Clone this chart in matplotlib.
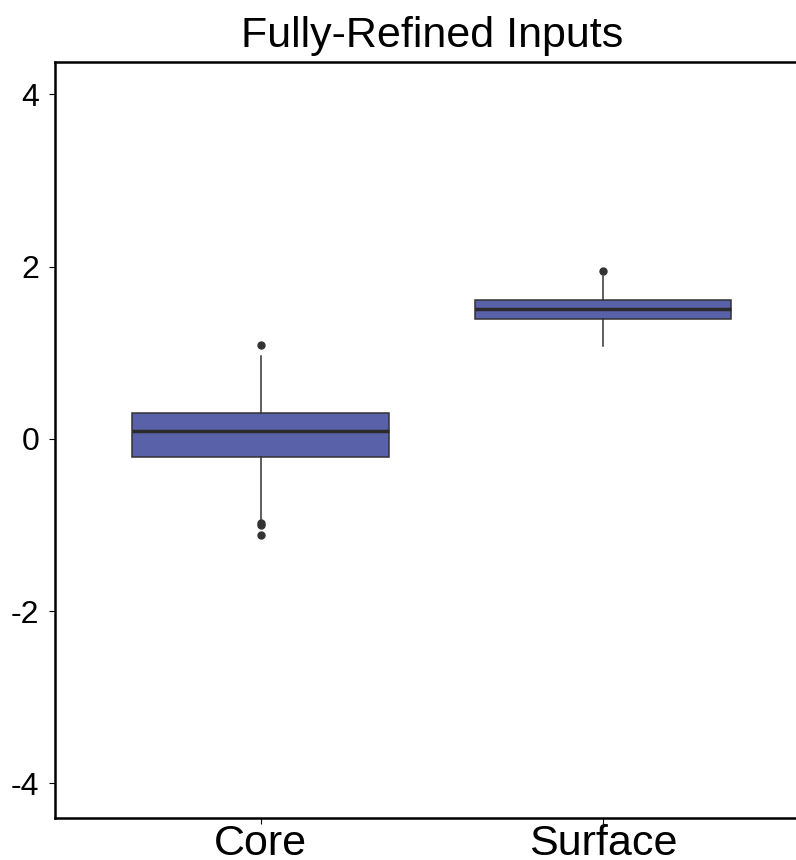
import matplotlib
matplotlib.use("Agg")
import matplotlib.pyplot as plt

# box statistics
groups = ["Core", "Surface"]
q1 = [-0.21, 1.39]
med = [0.087, 1.51]
q3 = [0.303, 1.612]
whislo = [-0.94, 1.077]
whishi = [0.962, 1.885]
fliers = [[1.086, -0.975, -1.0, -1.116], [1.945]]
yticks = [-4, -2, 0, 2, 4]

plt.rcParams['font.family'] = ['Liberation Sans', 'DejaVu Sans']

fig = plt.figure(figsize=(7.96, 8.60), dpi=100)
ax = fig.add_axes([55 / 796, 42 / 860, 753.5 / 796, 756 / 860])

stats = []
for i, g in enumerate(groups):
    stats.append(dict(label=g, q1=q1[i], med=med[i], q3=q3[i],
                      whislo=whislo[i], whishi=whishi[i], fliers=fliers[i]))

ax.bxp(stats, positions=[1, 2], widths=0.75, patch_artist=True,
       showcaps=False,
       boxprops=dict(facecolor='#5961a8', edgecolor='#333333', linewidth=1.1),
       medianprops=dict(color='#2b2b2b', linewidth=2.5),
       whiskerprops=dict(color='#333333', linewidth=1.1),
       flierprops=dict(marker='o', markerfacecolor='#333333',
                       markeredgecolor='#333333', markersize=5))

ax.set_xlim(0.4, 2.6)
ax.set_ylim(-4.404, 4.376)
ax.set_yticks(yticks)
ax.set_yticklabels([str(t) for t in yticks])

for s in ['left', 'bottom', 'top']:
    ax.spines[s].set_linewidth(1.8)
    ax.spines[s].set_color('black')
ax.spines['right'].set_visible(False)

ax.tick_params(axis='y', labelsize=23, length=4.5, width=0.8, pad=7, colors='black')
ax.tick_params(axis='x', labelsize=31, length=4, width=0.8, pad=0, colors='black')

ax.set_title("Fully-Refined Inputs", fontsize=31, pad=11)

fig.savefig("out.png", dpi=100)
